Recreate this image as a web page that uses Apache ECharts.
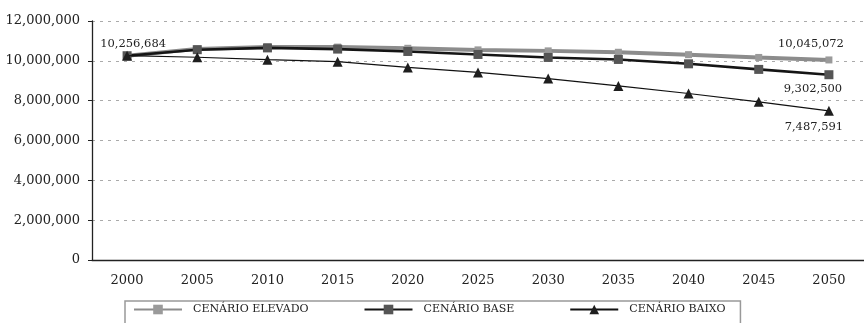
<!DOCTYPE html>
<html>
<head>
<meta charset="utf-8">
<script src="https://cdn.jsdelivr.net/npm/echarts@6/dist/echarts.min.js"></script>
<style>html,body{margin:0;padding:0;background:#fff;}#c{width:864px;height:323px;}</style>
</head>
<body>
<div id="c"></div>
<script>
const years = ['2000','2005','2010','2015','2020','2025','2030','2035','2040','2045','2050'];
const elevado = [10256684,10600000,10700000,10690000,10630000,10550000,10500000,10430000,10310000,10170000,10045072];
const base    = [10256684,10560000,10650000,10590000,10470000,10320000,10170000,10070000,9850000,9570000,9302500];
const baixo   = [10256684,10180000,10060000,9960000,9670000,9420000,9110000,8740000,8360000,7940000,7487591];
const seriesNames = ['CENÁRIO ELEVADO','CENÁRIO BASE','CENÁRIO BAIXO'];
const yTicks = [0,2000000,4000000,6000000,8000000,10000000,12000000];

const FONT = 'DejaVu Serif';
const fmt = v => v.toLocaleString('en-US');

function withLabels(arr, labelSpec) {
  return arr.map((v, i) => {
    const spec = labelSpec[i];
    if (!spec) return v;
    return { value: v, label: Object.assign({ show: true, formatter: p => fmt(p.value),
      fontFamily: FONT, fontSize: 11.5, color: '#222' }, spec) };
  });
}

const chart = echarts.init(document.getElementById('c'), null, {renderer: 'canvas'});
chart.setOption({
  animation: false,
  backgroundColor: '#fff',
  grid: { left: 92, top: 21, width: 778, height: 239, containLabel: false },
  xAxis: {
    type: 'category', data: years, boundaryGap: true,
    axisLine: { lineStyle: { color: '#222', width: 1.3 } },
    axisTick: { length: 4, lineStyle: { color: '#222' } },
    axisLabel: { fontFamily: FONT, fontSize: 13, color: '#222', margin: 14 }
  },
  yAxis: {
    type: 'value', min: yTicks[0], max: yTicks[yTicks.length-1], interval: 2000000,
    axisLine: { show: true, lineStyle: { color: '#222', width: 1.3 } },
    axisTick: { show: true, length: 4, lineStyle: { color: '#222' } },
    axisLabel: { fontFamily: FONT, fontSize: 13, color: '#222', margin: 12, formatter: v => fmt(v) },
    splitLine: { show: true, lineStyle: { color: '#aaa', type: [3, 5], width: 1 } }
  },
  legend: {
    data: seriesNames,
    left: 125, top: 301,
    itemWidth: 48, itemHeight: 12, itemGap: 55,
    padding: [3, 15, 20, 8],
    borderColor: '#999', borderWidth: 1.5,
    textStyle: { fontFamily: FONT, fontSize: 11, color: '#222', padding: [0,0,0,6] }
  },
  series: [
    {
      name: seriesNames[0], type: 'line',
      data: withLabels(elevado, { 0: { position: 'top', offset: [6, 3] }, 10: { position: 'top', offset: [-18, -1] } }),
      symbol: 'rect', symbolSize: 7,
      lineStyle: { color: '#8c8c8c', width: 4 },
      itemStyle: { color: '#9a9a9a' },
      z: 2
    },
    {
      name: seriesNames[1], type: 'line',
      data: withLabels(base, { 10: { position: 'bottom', offset: [-16, -1] } }),
      symbol: 'rect', symbolSize: 9,
      lineStyle: { color: '#151515', width: 2.6 },
      itemStyle: { color: '#555' },
      z: 3
    },
    {
      name: seriesNames[2], type: 'line',
      data: withLabels(baixo, { 10: { position: 'bottom', offset: [-15, 0] } }),
      symbol: 'triangle', symbolSize: 10,
      lineStyle: { color: '#111', width: 1.2 },
      itemStyle: { color: '#1e1e1e' },
      z: 4
    }
  ]
});
</script>
</body>
</html>
